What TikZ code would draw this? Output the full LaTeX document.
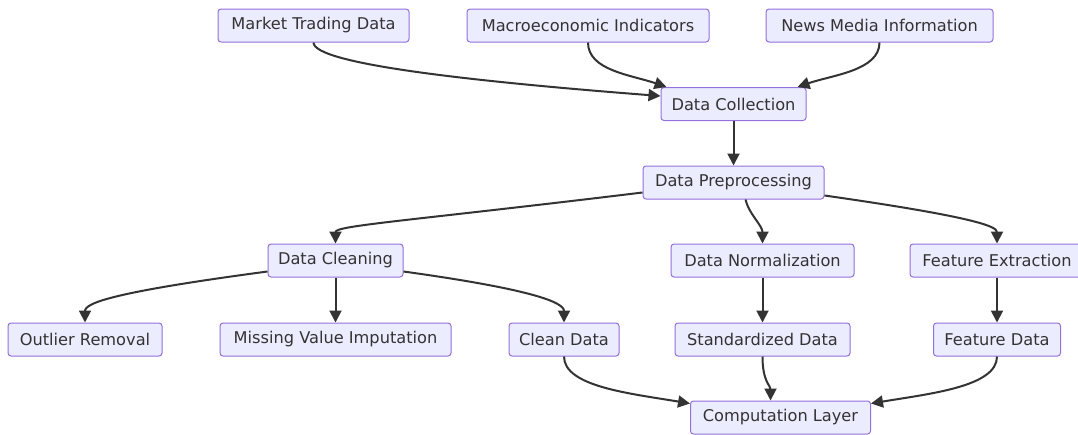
\documentclass[tikz,border=0pt]{standalone}
\usepackage{fontspec}
\setmainfont{DejaVu Sans}
\usetikzlibrary{arrows.meta}
\definecolor{nfill}{HTML}{ECECFF}
\definecolor{nborder}{HTML}{9370DB}
\definecolor{ntext}{HTML}{333333}
\definecolor{ledge}{HTML}{333333}
\begin{document}
\begin{tikzpicture}[x=1pt,y=-1pt,
  box/.style={draw=nborder, fill=nfill, rounded corners=3pt, line width=1pt, text=ntext,
    font=\fontsize{16.2}{19}\selectfont, minimum height=33pt, inner sep=0pt},
  edge/.style={draw=ledge, line width=2pt, -{Triangle[length=12pt,width=12pt]}}]
\useasboundingbox (0,0) rectangle (1078,434);
\fill[white] (0,0) rectangle (1078,434);
% row 1
\node[box, minimum width=191pt] (mtd)   at (313.5,25.5) {Market Trading Data};
\node[box, minimum width=242pt] (macro) at (588,25.5)   {Macroeconomic Indicators};
\node[box, minimum width=227pt] (news)  at (879.5,25.5) {News Media Information};
% rows 2-3
\node[box, minimum width=145pt] (dc) at (733.5,104)   {Data Collection};
\node[box, minimum width=181pt] (dp) at (733.5,182.5) {Data Preprocessing};
% row 4
\node[box, minimum width=135pt] (cln)  at (335.5,260.5) {Data Cleaning};
\node[box, minimum width=183pt] (norm) at (762.5,260.5) {Data Normalization};
\node[box, minimum width=174pt] (fe)   at (997,260.5)   {Feature Extraction};
% row 5
\node[box, minimum width=154pt] (out)   at (85,339.5)    {Outlier Removal};
\node[box, minimum width=231pt] (miss)  at (335.5,339.5) {Missing Value Imputation};
\node[box, minimum width=110pt] (clean) at (564,339.5)   {Clean Data};
\node[box, minimum width=175pt] (std)   at (762.5,339.5) {Standardized Data};
\node[box, minimum width=127pt] (fd)    at (997,339.5)   {Feature Data};
% row 6
\node[box, minimum width=180pt] (cl) at (780.5,417.5) {Computation Layer};
% edges
\draw[edge] (mtd.south) .. controls +(0,22) and +(-180,-14) .. ([yshift=8pt]dc.west);
\draw[edge] (macro.south) .. controls +(0,28) and +(-35,-12) .. ([xshift=6pt]dc.north west);
\draw[edge] (news.south) .. controls +(0,28) and +(35,-12) .. ([xshift=-9pt]dc.north east);
\draw[edge] (dc) -- (dp);
\draw[edge] ([yshift=-10pt]dp.west) .. controls +(-230,28) and +(0,-18) .. (cln.north);
\draw[edge] ([xshift=12pt]dp.south) .. controls +(3,14) and +(0,-18) .. (norm.north);
\draw[edge] ([yshift=-13pt]dp.east) .. controls +(140,20) and +(0,-18) .. (fe.north);
\draw[edge] (cln) -- (miss);
\draw[edge] ([yshift=-11pt]cln.west) .. controls +(-150,20) and +(0,-20) .. (out.north);
\draw[edge] ([yshift=-11pt]cln.east) .. controls +(130,18) and +(0,-20) .. (clean.north);
\draw[edge] (norm) -- (std);
\draw[edge] (fe) -- (fd);
\draw[edge] (clean.south) .. controls +(0,30) and +(-60,-10) .. ([yshift=-3pt]cl.north west);
\draw[edge] (std.south) .. controls +(0,25) and +(0,-15) .. ([xshift=-10pt]cl.north);
\draw[edge] (fd.south) .. controls +(0,30) and +(60,-10) .. ([yshift=-3pt]cl.north east);
\end{tikzpicture}
\end{document}
